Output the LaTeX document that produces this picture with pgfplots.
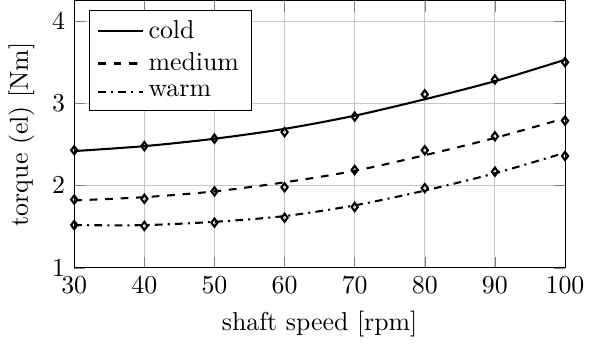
\documentclass[border=0pt]{standalone}
\usepackage{pgfplots}
\pgfplotsset{compat=1.18}
\begin{document}
\begin{tikzpicture}
\begin{axis}[
  scale only axis,
  width=190pt, height=103.5pt,
  xmin=30, xmax=100, ymin=1, ymax=4.25,
  xtick={30,40,50,60,70,80,90,100},
  ytick={1,2,3,4},
  grid=major,
  major grid style={gray!45},
  xlabel={shaft speed [rpm]},
  ylabel={torque (el) [Nm]},
  legend style={at={(0.03,0.966)}, anchor=north west, cells={anchor=west}},
  legend cell align=left,
]
\addplot[thick, smooth] coordinates {(30,2.42) (40,2.48) (50,2.57) (60,2.69) (70,2.85) (80,3.05) (90,3.27) (100,3.53)};
\addlegendentry{cold}
\addplot[thick, dashed, smooth] coordinates {(30,1.82) (40,1.86) (50,1.93) (60,2.04) (70,2.18) (80,2.37) (90,2.58) (100,2.82)};
\addlegendentry{medium}
\addplot[thick, dash dot, smooth] coordinates {(30,1.52) (40,1.52) (50,1.56) (60,1.63) (70,1.76) (80,1.94) (90,2.15) (100,2.40)};
\addlegendentry{warm}
\addplot[only marks, mark=diamond, mark size=1.6pt, thick, forget plot] coordinates {(30,2.43) (40,2.48) (50,2.57) (60,2.65) (70,2.84) (80,3.11) (90,3.29) (100,3.50)};
\addplot[only marks, mark=diamond, mark size=1.6pt, thick, forget plot] coordinates {(30,1.83) (40,1.84) (50,1.93) (60,1.98) (70,2.19) (80,2.43) (90,2.60) (100,2.79)};
\addplot[only marks, mark=diamond, mark size=1.6pt, thick, forget plot] coordinates {(30,1.52) (40,1.51) (50,1.55) (60,1.61) (70,1.74) (80,1.97) (90,2.17) (100,2.36)};
\end{axis}
\end{tikzpicture}
\end{document}
